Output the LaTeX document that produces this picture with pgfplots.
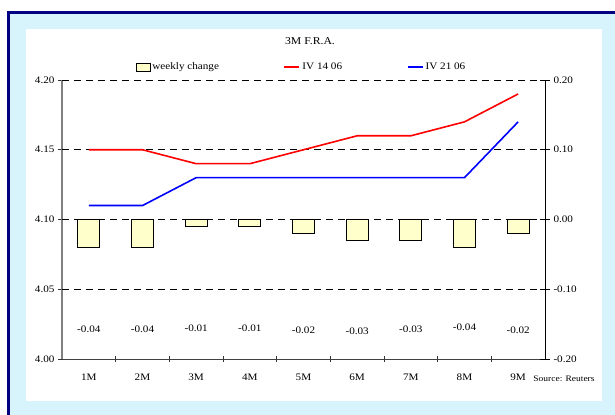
\documentclass[border=0pt]{standalone}
\usepackage{fontspec}
\setmainfont{Liberation Serif}[FakeStretch=1.12]
\usepackage{pgfplots}
\pgfplotsset{compat=1.18}
\definecolor{lightbluebg}{RGB}{215,243,252}
\definecolor{navyframe}{RGB}{0,0,128}
\definecolor{barfill}{RGB}{255,255,204}
\begin{document}
\begin{tikzpicture}
\useasboundingbox (0,0) rectangle (615bp,415bp);
\fill[white] (0,0) rectangle (615bp,415bp);
\fill[lightbluebg] (10bp,0) rectangle (615bp,401bp);
\fill[navyframe] (7bp,0) rectangle (10bp,404bp);
\fill[navyframe] (7bp,401bp) rectangle (615bp,404bp);
\fill[white] (26bp,14bp) rectangle (602bp,386bp);
\node[font=\fontsize{10.5}{12}\selectfont] at (310bp,374bp) {3M F.R.A.};
\node[font=\fontsize{8.5}{10}\selectfont] at (564bp,36bp) {Source: Reuters};
% left axis with lines
\begin{axis}[
  at={(62bp,56bp)}, anchor=south west, scale only axis,
  width=483bp, height=279bp,
  xmin=0.5, xmax=9.5, ymin=4.0, ymax=4.2,
  axis x line*=bottom, axis y line*=left,
  x axis line style={-, black!75, line width=0.8bp},
  y axis line style={-, gray, line width=1.2bp},
  ytick={4.00,4.05,4.10,4.15,4.20},
  yticklabels={4.00,4.05,4.10,4.15,4.20},
  ytick align=outside, major tick length=4bp,
  ytick style={black!80, line width=0.6bp},
  extra y ticks={4.05,4.10,4.15,4.20},
  extra y tick labels={},
  extra y tick style={ymajorgrids=true, major tick length=0pt},
  major grid style={black, line width=0.7bp, dash pattern=on 7bp off 5bp},
  xtick={1,...,9},
  xticklabels={1M,2M,3M,4M,5M,6M,7M,8M,9M},
  major x tick style={draw=none},
  minor xtick={1.5,2.5,...,8.5},
  minor x tick style={black!80, line width=0.6bp},
  minor tick length=5bp, xtick align=center,
  tick label style={font=\fontsize{10}{12}\selectfont},
  xticklabel style={yshift=-9bp},
]
\addplot[red, line width=1.6bp] coordinates {(1,4.15)(2,4.15)(3,4.14)(4,4.14)(5,4.15)(6,4.16)(7,4.16)(8,4.17)(9,4.19)};
\addplot[blue, line width=1.6bp] coordinates {(1,4.11)(2,4.11)(3,4.13)(4,4.13)(5,4.13)(6,4.13)(7,4.13)(8,4.13)(9,4.17)};
\end{axis}
% right axis with bars
\begin{axis}[
  at={(62bp,56bp)}, anchor=south west, scale only axis,
  width=483bp, height=279bp,
  xmin=0.5, xmax=9.5, ymin=-0.2, ymax=0.2,
  axis x line=none, axis y line*=right,
  y axis line style={-, black, line width=0.8bp},
  ytick={-0.2,-0.1,0,0.1,0.2},
  yticklabels={-0.20,-0.10,0.00,0.10,0.20},
  ytick align=center, major tick length=10bp,
  ytick style={black, line width=0.6bp},
  tick label style={font=\fontsize{10}{12}\selectfont},
  legend style={at={(0.5,1)}, anchor=center, yshift=13bp, xshift=-2bp,
    draw=none, fill=none, font=\fontsize{10}{12}\selectfont,
    legend columns=3, /tikz/every even column/.append style={column sep=62.5bp}},
  legend cell align=left,
]
\addlegendimage{legend image code/.code={\draw[fill=barfill, draw=black, line width=0.7bp] (0bp,-4bp) rectangle (14bp,4bp);}}
\addlegendentry{weekly change}
\addlegendimage{legend image code/.code={\draw[red, line width=2bp] (0bp,0bp) -- (15bp,0bp);}}
\addlegendentry{IV 14 06}
\addlegendimage{legend image code/.code={\draw[blue, line width=2bp] (0bp,0bp) -- (15bp,0bp);}}
\addlegendentry{IV 21 06}
\addplot[ybar, bar width=22bp, fill=barfill, draw=black, line width=0.8bp, forget plot] coordinates {(1,-0.04)(2,-0.04)(3,-0.01)(4,-0.01)(5,-0.02)(6,-0.03)(7,-0.03)(8,-0.04)(9,-0.02)};
\addplot[draw=none, mark=none, forget plot, nodes near coords, point meta=explicit symbolic,
  every node near coord/.style={anchor=center, font=\fontsize{10}{12}\selectfont}]
  table[meta=label] {
x y label
1 -0.157 -0.04
2 -0.157 -0.04
3 -0.1556 -0.01
4 -0.1556 -0.01
5 -0.159 -0.02
6 -0.1605 -0.03
7 -0.157 -0.03
8 -0.155 -0.04
9 -0.159 -0.02
};
\end{axis}
\end{tikzpicture}
\end{document}
